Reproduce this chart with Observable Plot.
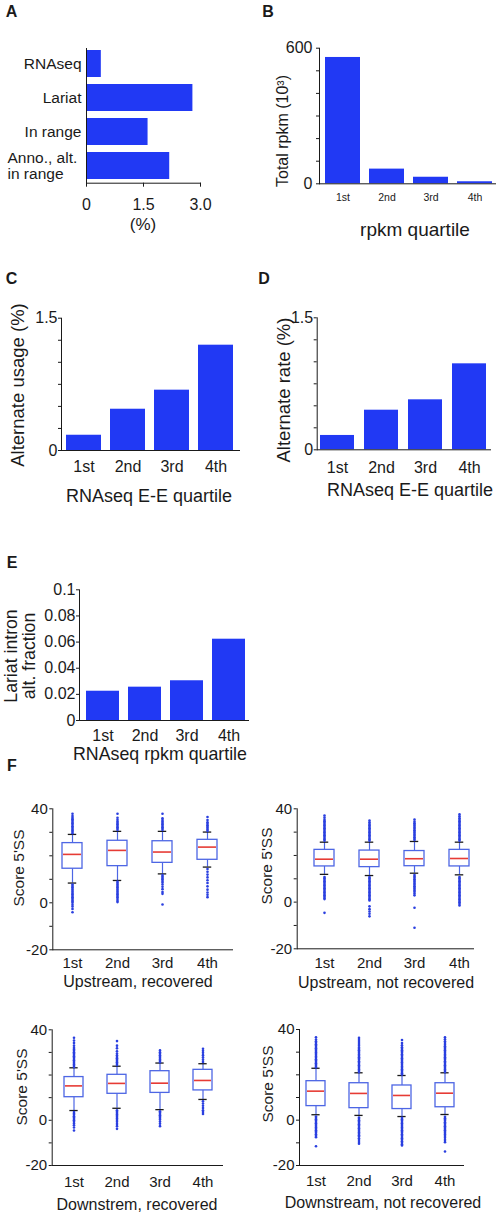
<!DOCTYPE html>
<html><head><meta charset="utf-8">
<script src="https://cdn.jsdelivr.net/npm/d3@7"></script>
<script src="https://cdn.jsdelivr.net/npm/@observablehq/plot@0.6"></script>
<style>
body{margin:0;background:#fff;}
#fig{position:relative;width:496px;height:1216px;overflow:hidden;background:#fff;font-family:"Liberation Sans",Arial,Helvetica,sans-serif;color:#1a1a1a;}
.lbl{position:absolute;white-space:nowrap;line-height:1.1;text-align:center;}
</style></head><body><div id="fig"></div><script>
// ---------- data ----------
const aCategories = ["RNAseq", "Lariat", "In range", "Anno., alt.\nin range"];
const aValues = [0.39, 2.80, 1.62, 2.19];
const aTicks = [0, 1.5, 3.0];
const aTickLabels = ["0", "1.5", "3.0"];

const quartiles = ["1st", "2nd", "3rd", "4th"];
const bValues = [559, 65, 29, 9];
const bTicks = [0, 100, 200, 300, 400, 500, 600];
const bTickLabels = [0, 600];

const cValues = [0.173, 0.468, 0.684, 1.194];
const dValues = [0.163, 0.45, 0.568, 0.977];
const cdTicks = [0, 0.25, 0.5, 0.75, 1, 1.25, 1.5];
const cdTickLabels = [0, 1.5];

const eValues = [0.0224, 0.0255, 0.0304, 0.0622];
const eTicks = [0, 0.02, 0.04, 0.06, 0.08, 0.1];

const fTicks = [-20, -10, 0, 10, 20, 30, 40];
const fTickLabels = [-20, 0, 40];

// Upstream, recovered
const urLo = [8.4, 9.5, 12.3, 15.2];
const urQ1 = [14.5, 15.6, 17.0, 18.3];
const urMed = [20.6, 22.3, 21.6, 23.7];
const urQ3 = [25.4, 26.4, 26.2, 26.8];
const urHi = [29.1, 30.4, 30.4, 30.1];
const urOut = [
  [29.6,30.2,30.8,31.4,32,32.6,33.2,33.8,34.4,35,35.6,36.2,36.9,37.9, 7.8,7.2,6.6,6,5.4,4.8,4.2,3.6,3,2.4,1.8,1.2,0.6,0,-0.8,-1.6,-2.6,-4],
  [31,31.6,32.2,32.8,33.4,34,34.6,35.3,36.2,37.9, 9,8.4,7.8,7.2,6.6,6,5.4,4.8,4.2,3.6,3,2.4,1.6,0.9,0.3],
  [31,31.6,32.2,32.8,33.4,34,34.6,35.2,36,37.9, 11.8,11.2,10.6,10,9.3,8.6,7.8,6.8,5.8,4.6,3.8,-0.7],
  [30.6,31.2,31.8,32.4,33,33.6,34.3,35.2,36.5, 14.4,13.2,12,10.8,9.6,8.4,7,5.6,4.4,3.4,2.4]
];
// Upstream, not recovered
const unLo = [11.9, 11.4, 12.4, 11.7];
const unQ1 = [15.3, 15.0, 15.4, 15.3];
const unMed = [18.4, 18.4, 18.6, 18.7];
const unQ3 = [22.4, 22.1, 21.9, 22.4];
const unHi = [25.7, 25.7, 26.0, 25.7];
const unOut = [
  [26.3,26.9,27.5,28.1,28.7,29.3,29.9,30.5,31.1,31.7,32.3,32.9,33.5,34.1,34.7,35.3,36.2,37.1, 10.8,10.2,9.6,9,8.4,7.8,7.2,6.6,6,5.4,4.8,4.2,3.6,3,2.4,1.8,1.3,-4.6],
  [26.3,26.9,27.5,28.1,28.7,29.3,29.9,30.5,31.1,31.7,32.3,32.9,33.5,34.2,35, 10.8,10.2,9.6,9,8.4,7.8,7.2,6.6,6,5.4,4.8,4.2,3.6,3,2.4,1.8,1.2,0.7,-1.8,-3,-4,-5,-6.1],
  [26.6,27.2,27.8,28.4,29,29.6,30.2,30.8,31.4,32,32.6,33.2,33.8,34.5,35.4, 11.6,11,10.4,9.8,9.2,8.6,8,7.4,6.8,6.2,5.6,5,4.4,3.7,2.9,-2.4,-11],
  [26.3,26.9,27.5,28.1,28.7,29.3,29.9,30.5,31.1,31.7,32.3,32.9,33.5,34.1,34.7,35.3,36,36.8,37.6, 10.8,10.2,9.6,9,8.4,7.8,7.2,6.6,6,5.4,4.8,4.2,3.6,3,2.4,1.8,1.2,0.6,0,-0.7,-1.4]
];
// Downstrem, recovered
const drLo = [4.3, 5.3, 4.7, 9.2];
const drQ1 = [10.2, 11.7, 12.1, 13.2];
const drMed = [15.2, 16.3, 16.4, 17.6];
const drQ3 = [19.1, 20.1, 21.7, 22.3];
const drHi = [23.2, 23.9, 25.3, 25.0];
const drOut = [
  [23.5,24.1,24.7,25.3,25.9,26.5,27.1,27.7,28.3,28.9,29.5,30.1,30.7,31.3,32,33,34.2,35.3,36.5, 3.6,3,2.4,1.8,1.2,0.6,0,-0.7,-1.4,-2.2,-3.2,-4.5],
  [24.4,25,25.6,26.2,26.8,27.4,28,28.7,29.5,30.5,31.8,33,35, 4.4,3.8,3.2,2.6,2,1.4,0.8,0.1,-0.7,-1.6,-2.6,-3.8],
  [25.7,26.3,26.9,27.5,28.1,28.7,29.4,30.1,30.9, 4,3.4,2.8,2.2,1.6,1,0.3,-0.6,-1.5,-2.6],
  [25.8,26.8,27.8,28.8,29.8,30.7,31.6, 8.4,7.4,6.4,5.4,4.4,3.6,2.8]
];
// Downstream, not recovered
const dnLo = [2.4, 2.1, 1.6, 2.5];
const dnQ1 = [6.2, 5.3, 4.9, 5.7];
const dnMed = [12.8, 11.8, 10.9, 11.9];
const dnQ3 = [17.2, 16.3, 15.3, 16.3];
const dnHi = [22.9, 20.9, 19.7, 20.9];
const dnOut = [
  [23.3,23.9,24.5,25.1,25.7,26.3,26.9,27.5,28.1,28.7,29.3,29.9,30.5,31.1,31.7,32.3,32.9,33.5,34.1,34.8,35.6,36.6, 1.6,1,0.4,-0.2,-0.8,-1.4,-2,-2.6,-3.2,-3.8,-4.4,-5,-5.6,-6.2,-6.9,-7.5,-11.5],
  [21.2,21.8,22.4,23,23.6,24.2,24.8,25.4,26,26.6,27.2,27.8,28.4,29,29.6,30.2,30.8,31.4,32,32.8,33.6,34.5,35.4,36.3, 1.2,0.6,0,-0.6,-1.2,-1.8,-2.4,-3,-3.6,-4.2,-4.8,-5.4,-6,-6.6,-7.2,-8,-8.8,-9.6,-10.4],
  [20.1,20.7,21.3,21.9,22.5,23.1,23.7,24.3,24.9,25.5,26.1,26.7,27.3,27.9,28.5,29.1,29.7,30.3,30.9,31.5,32.2,33,34,35.4, 1,0.4,-0.2,-0.8,-1.4,-2,-2.6,-3.2,-3.8,-4.4,-5,-5.6,-6.2,-6.8,-7.4,-8,-8.6,-9.3,-10,-10.6,-11.2],
  [21.2,21.8,22.4,23,23.6,24.2,24.8,25.4,26,26.6,27.2,27.8,28.4,29,29.6,30.2,30.8,31.4,32,32.6,33.3,34,34.8,35.7,36.6, 1.5,0.9,0.3,-0.3,-0.9,-1.5,-2.1,-2.7,-3.3,-3.9,-4.5,-5.1,-5.7,-6.3,-7,-7.8,-8.7,-9.7,-13.8]
];

// ---------- style ----------
const BLUE = "#2139f4";
const BOXBLUE = "#4d66e4";
const DOTBLUE = "#2a3fe0";
const RED = "#e63b35";
const INK = "#1a1a1a";
const FONT = '"Liberation Sans", Arial, Helvetica, sans-serif';
const baseStyle = {fontFamily: FONT, fontSize: "15px", color: INK, background: "transparent", overflow: "visible"};

const fig = document.getElementById("fig");
function place(svg, left, top) {
  svg.style.position = "absolute";
  svg.style.left = left + "px";
  svg.style.top = top + "px";
  fig.appendChild(svg);
}
function label(html, cx, cy, size, opts = {}) {
  const d = document.createElement("div");
  d.className = "lbl";
  d.innerHTML = html;
  d.style.left = cx + "px";
  d.style.top = cy + "px";
  d.style.fontSize = size + "px";
  if (opts.bold) d.style.fontWeight = "bold";
  if (opts.lineHeight) d.style.lineHeight = opts.lineHeight;
  d.style.transform = "translate(-50%,-50%)" + (opts.rotate ? " rotate(-90deg)" : "");
  fig.appendChild(d);
}

// ---------- panel A ----------
const rowsA = aCategories.map((c, i) => ({c, v: aValues[i]}));
place(Plot.plot({
  width: 248, height: 215, marginLeft: 86, marginRight: 48, marginTop: 48, marginBottom: 32.3,
  style: baseStyle,
  x: {domain: [0, 3], label: null},
  y: {domain: aCategories, range: [45.2, 184], paddingInner: 0.22, paddingOuter: 0.11, axis: null, label: null},
  marks: [
    Plot.barX(rowsA, {y: "c", x: "v", fill: BLUE}),
    Plot.frame({anchor: "left", stroke: INK}),
    Plot.frame({anchor: "bottom", stroke: INK}),
    Plot.axisX({ticks: aTicks, tickFormat: d => aTickLabels[aTicks.indexOf(d)], tickSize: 4, tickPadding: 11, fontSize: 16, label: null}),
    Plot.text(rowsA.filter(d => !d.c.includes("\n")), {y: "c", text: "c", frameAnchor: "left", textAnchor: "end", dx: -5, fontSize: 15.5, fill: INK}),
    Plot.text(rowsA.filter(d => d.c.includes("\n")), {y: "c", text: "c", frameAnchor: "left", textAnchor: "start", dx: -79, fontSize: 15.5, lineHeight: 1.05, fill: INK})
  ]
}), 0, 0);

// ---------- vertical bar panels ----------
function vbars(o) {
  const rows = quartiles.map((q, i) => ({q, v: o.values[i]}));
  return Plot.plot({
    width: o.width, height: o.height,
    marginLeft: o.ml, marginRight: o.mr, marginTop: o.mt, marginBottom: o.mb,
    style: baseStyle,
    x: {domain: quartiles, range: o.xRange, paddingInner: o.pi, paddingOuter: o.pi / 2, label: null},
    y: {domain: o.yDomain, label: null},
    marks: [
      Plot.barY(rows, {x: "q", y: "v", fill: BLUE}),
      Plot.frame({anchor: "left", stroke: INK}),
      Plot.frame({anchor: "bottom", stroke: INK}),
      Plot.axisY({ticks: o.yTicks, tickFormat: o.yFormat, tickSize: o.yTickSize, tickPadding: o.yTickPadding, fontSize: o.yFont, label: null}),
      Plot.axisX({tickSize: 0, tickPadding: o.xTickPadding, fontSize: o.xFont, label: null})
    ]
  });
}

place(vbars({
  values: bValues, width: 246, height: 215, ml: 69, mr: 1, mt: 47.7, mb: 31.7,
  xRange: [69.35, 246.5], pi: 0.21, yDomain: [0, 600],
  yTicks: bTicks, yFormat: d => bTickLabels.includes(d) ? String(d) : "",
  yTickSize: 3, yTickPadding: 4, yFont: 16, xFont: 10.5, xTickPadding: 10
}), 250, 0);

place(vbars({
  values: cValues, width: 248, height: 180, ml: 61, mr: 9, mt: 17.7, mb: 30,
  xRange: [61.07, 237.5], pi: 0.21, yDomain: [0, 1.5],
  yTicks: cdTicks, yFormat: d => cdTickLabels.includes(d) ? String(d) : "",
  yTickSize: 3, yTickPadding: 1, yFont: 16, xFont: 16, xTickPadding: 10
}), 0, 300);

place(vbars({
  values: dValues, width: 246, height: 180, ml: 66.7, mr: 6, mt: 17.3, mb: 30.7,
  xRange: [65.04, 241.4], pi: 0.225, yDomain: [0, 1.5],
  yTicks: cdTicks, yFormat: d => cdTickLabels.includes(d) ? String(d) : "",
  yTickSize: 3, yTickPadding: 1, yFont: 16, xFont: 16, xTickPadding: 11.5
}), 250, 300);

place(vbars({
  values: eValues, width: 260, height: 180, ml: 79, mr: 12, mt: 19.3, mb: 30,
  xRange: [80.4, 250.8], pi: 0.215, yDomain: [0, 0.1],
  yTicks: eTicks, yFormat: d => String(d),
  yTickSize: 3, yTickPadding: 1, yFont: 16, xFont: 16, xTickPadding: 9.3
}), 0, 570);

// ---------- box plot panels ----------
function boxes(o) {
  const rows = quartiles.map((q, i) => ({q, lo: o.lo[i], q1: o.q1[i], med: o.med[i], q3: o.q3[i], hi: o.hi[i]}));
  const pts = quartiles.flatMap((q, i) => o.out[i].map(v => ({q, v})));
  const step = (o.xRange[1] - o.xRange[0]) / 4;
  const capInset = (step * 0.45 - 9) / 2;
  return Plot.plot({
    width: o.width, height: o.height,
    marginLeft: o.ml, marginRight: o.mr, marginTop: o.mt, marginBottom: o.mb,
    style: baseStyle,
    x: {domain: quartiles, range: o.xRange, paddingInner: 0.55, paddingOuter: 0.275, label: null},
    y: {domain: [-20, 40], label: null},
    marks: [
      Plot.ruleX(rows, {x: "q", y1: "lo", y2: "q1", stroke: BOXBLUE, strokeWidth: 1.2}),
      Plot.ruleX(rows, {x: "q", y1: "q3", y2: "hi", stroke: BOXBLUE, strokeWidth: 1.2}),
      Plot.barY(rows, {x: "q", y1: "q1", y2: "q3", fill: "white", stroke: BOXBLUE, strokeWidth: 1.3}),
      Plot.tickY(rows, {x: "q", y: "med", stroke: RED, strokeWidth: 1.6, insetLeft: 1, insetRight: 1}),
      Plot.tickY(rows, {x: "q", y: "lo", stroke: INK, strokeWidth: 1.3, insetLeft: capInset, insetRight: capInset}),
      Plot.tickY(rows, {x: "q", y: "hi", stroke: INK, strokeWidth: 1.3, insetLeft: capInset, insetRight: capInset}),
      Plot.dot(pts, {x: "q", y: "v", r: 1.3, fill: DOTBLUE, stroke: null}),
      Plot.frame({anchor: "left", stroke: INK}),
      Plot.frame({anchor: "bottom", stroke: INK}),
      Plot.axisY({ticks: fTicks, tickFormat: d => fTickLabels.includes(d) ? String(d) : "", tickSize: 3, tickPadding: 2, fontSize: 15, label: null}),
      Plot.axisX({tickSize: 0, tickPadding: o.xTickPadding, fontSize: 15, label: null})
    ]
  });
}

place(boxes({lo: urLo, q1: urQ1, med: urMed, q3: urQ3, hi: urHi, out: urOut,
  width: 248, height: 180, ml: 52.3, mr: 16, mt: 13.3, mb: 25.7, xRange: [47.97, 230.6], xTickPadding: 8}), 0, 795);
place(boxes({lo: unLo, q1: unQ1, med: unMed, q3: unQ3, hi: unHi, out: unOut,
  width: 248, height: 180, ml: 48.7, mr: 23, mt: 13.3, mb: 26.7, xRange: [52, 234.3], xTickPadding: 9}), 248, 795);
place(boxes({lo: drLo, q1: drQ1, med: drMed, q3: drQ3, hi: drHi, out: drOut,
  width: 248, height: 200, ml: 51.7, mr: 26, mt: 13.3, mb: 51, xRange: [50.65, 225.5], xTickPadding: 11.3}), 0, 1016);
place(boxes({lo: dnLo, q1: dnQ1, med: dnMed, q3: dnQ3, hi: dnHi, out: dnOut,
  width: 248, height: 200, ml: 51, mr: 33, mt: 13, mb: 51, xRange: [44.03, 219.8], xTickPadding: 9.6}), 248, 1016);

// ---------- text ----------
label("A", 11.5, 12, 16, {bold: true});
label("B", 268, 11.5, 16, {bold: true});
label("C", 11.5, 279, 16, {bold: true});
label("D", 264, 279, 16, {bold: true});
label("E", 12, 563, 16, {bold: true});
label("F", 12, 766, 16, {bold: true});

label("(%)", 143, 225, 17);
label("Total rpkm (10³)", 283, 131, 16, {rotate: true});
label("rpkm quartile", 415, 230, 19);
label("Alternate usage (%)", 18, 385, 18.5, {rotate: true});
label("RNAseq E-E quartile", 149, 497, 18);
label("Alternate rate (%)", 284, 390, 18.5, {rotate: true});
label("RNAseq E-E quartile", 410, 491, 18);
label("Lariat intron<br>alt. fraction", 21, 656, 17.7, {rotate: true, lineHeight: 1.0});
label("RNAseq rpkm quartile", 160, 755, 17.8);

label("Score 5'SS", 19, 868, 15.5, {rotate: true});
label("Score 5'SS", 267, 866, 15.5, {rotate: true});
label("Score 5'SS", 22, 1087, 15.5, {rotate: true});
label("Score 5'SS", 268, 1084, 15.5, {rotate: true});
label("Upstream, recovered", 138, 982, 16);
label("Upstream, not recovered", 386, 982.7, 16);
label("Downstrem, recovered", 137, 1205, 16);
label("Downstream, not recovered", 383, 1203, 16);
</script></body></html>
